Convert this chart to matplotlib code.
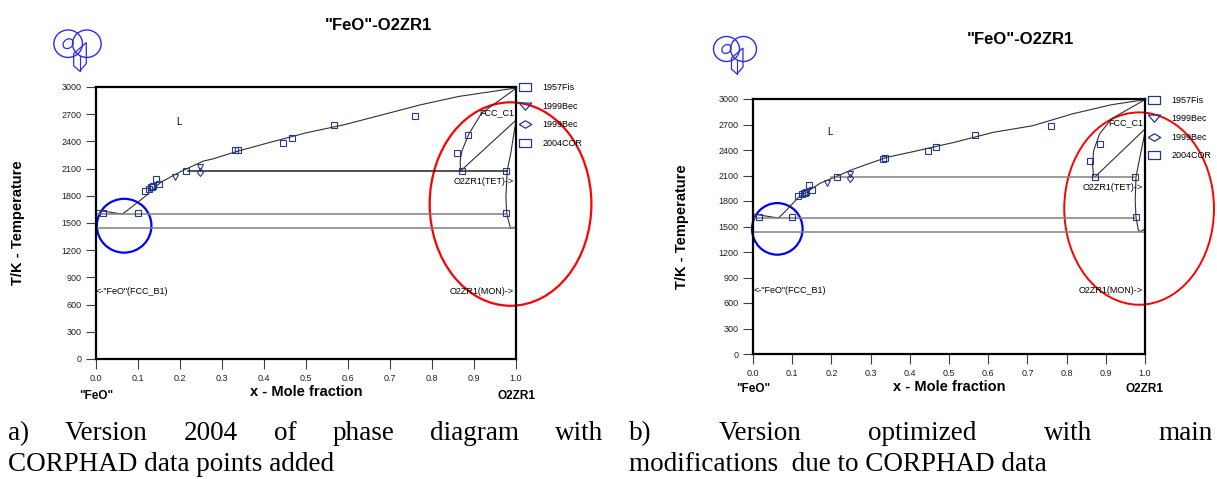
import numpy as np
import matplotlib
matplotlib.use('Agg')
import matplotlib.pyplot as plt
from matplotlib.patches import Ellipse, Polygon
from matplotlib.lines import Line2D

plt.rcParams['font.family'] = ['Liberation Sans', 'DejaVu Sans']

# calculated curves, version 2004 (panel a)
liq_a_x = [0.0, 0.062, 0.075, 0.118, 0.155, 0.2, 0.255, 0.278, 0.337, 0.41, 0.5, 0.592, 0.683, 0.774, 0.865, 1.0]
liq_a_t = [1643, 1599, 1640, 1797, 1951, 2064, 2182, 2207, 2292, 2384, 2494, 2585, 2695, 2805, 2897, 2989]
fcc_a_x = [1.0, 0.918, 0.887, 0.871, 0.867, 0.868]
fcc_a_t = [2985, 2712, 2475, 2292, 2182, 2078]
tie_a_x = [0.869, 0.999]
tie_a_t = [2078, 2630]
tet_a_x = [0.999, 0.987, 0.979, 0.976, 0.978, 0.987, 0.999]
tet_a_t = [2600, 2255, 2078, 1780, 1600, 1440, 1458]
iso_a_t = [2078, 1600, 1440]
iso_a_x0 = [0.22, 0.0, 0.0]
iso_a_x1 = [0.979, 0.978, 1.0]

# calculated curves, optimized version (panel b)
liq_b_x = [0.0, 0.065, 0.08, 0.116, 0.171, 0.211, 0.251, 0.281, 0.342, 0.412, 0.513, 0.613, 0.714, 0.814, 0.915, 1.0]
liq_b_t = [1647, 1600, 1667, 1843, 2008, 2086, 2165, 2216, 2314, 2384, 2490, 2608, 2686, 2824, 2933, 2992]
fcc_b_x = [1.0, 0.915, 0.884, 0.869, 0.866, 0.869]
fcc_b_t = [2992, 2769, 2588, 2392, 2235, 2082]
tie_b_x = [0.872, 1.0]
tie_b_t = [2082, 2647]
tet_b_x = [1.0, 0.987, 0.977, 0.975, 0.977, 0.983, 0.987, 1.0]
tet_b_t = [2610, 2314, 2082, 1804, 1608, 1459, 1439, 1471]
iso_b_t = [2082, 1600, 1440]
iso_b_x0 = [0.2, 0.0, 0.0]
iso_b_x1 = [0.975, 0.977, 1.0]

# experimental points
fis_x = [0.116, 0.126, 0.13, 0.133, 0.135, 0.142, 0.151, 0.214, 0.332, 0.337, 0.446, 0.467, 0.566, 0.759]
fis_t = [1858, 1880, 1893, 1900, 1906, 1987, 1927, 2079, 2300, 2302, 2384, 2435, 2579, 2677]
bec1_x = [0.188, 0.247]
bec1_t = [2006, 2118]
bec2_x = [0.247]
bec2_t = [2068]
cor_x = [0.016, 0.1, 0.859, 0.885, 0.872, 0.975, 0.977]
cor_t = [1608, 1608, 2270, 2475, 2079, 2079, 1608]

legend_labels = ['1957Fis', '1999Bec', '1999Bec', '2004COR']

caption_a1 = 'a) Version 2004 of phase diagram with'
caption_a2 = 'CORPHAD data points added'
caption_b1 = 'b) Version optimized with main'
caption_b2 = 'modifications  due to CORPHAD data'

NAVY = '#23398c'
RECT = [(-1, -0.6), (1, -0.6), (1, 0.6), (-1, 0.6), (-1, -0.6)]
TRI = [(-1, 0.55), (1, 0.55), (0, -0.6), (-1, 0.55)]
DIA = [(-1, 0), (0, 0.6), (1, 0), (0, -0.6), (-1, 0)]
W, H = 1217, 479


def draw_logo(fig, rect):
    lax = fig.add_axes(rect)
    lax.set_xlim(0, 10)
    lax.set_ylim(0, 10)
    lax.axis('off')
    c = '#2b2bf0'
    lax.add_patch(Ellipse((3.3, 6.6), 5.2, 5.0, fill=False, ec=c, lw=1.0))
    lax.add_patch(Ellipse((6.7, 6.6), 5.2, 5.0, fill=False, ec=c, lw=1.0))
    lax.add_patch(Ellipse((3.3, 6.6), 2.0, 1.6, angle=40, fill=False, ec=c, lw=0.9))
    lax.add_patch(Polygon([[4.3, 4.8], [6.6, 6.8], [6.6, 3.0], [5.4, 1.6], [4.3, 2.6]],
                          closed=True, fill=False, ec=c, lw=0.9))
    lax.plot([5.4, 5.4], [1.6, 4.4], color=c, lw=0.8)


def draw_panel(ax, curves, isos, iso_colors, ypad):
    for cx, ct in curves:
        ax.plot(cx, ct, color='#303030', lw=0.8)
    iso_t, iso_x0, iso_x1 = isos
    for t, a, b, col in zip(iso_t, iso_x0, iso_x1, iso_colors):
        ax.plot([a, b], [t, t], color=col, lw=1.1)

    ax.plot(fis_x, fis_t, 's', ms=4, mfc='none', mec=NAVY, mew=0.8)
    ax.plot(bec1_x, bec1_t, 'v', ms=4.5, mfc='none', mec=NAVY, mew=0.8)
    ax.plot(bec2_x, bec2_t, 'd', ms=4.5, mfc='none', mec=NAVY, mew=0.8)
    ax.plot(cor_x, cor_t, 's', ms=4, mfc='none', mec=NAVY, mew=0.8)

    ax.set_xlim(0, 1)
    ax.set_ylim(0, 3000)
    ax.set_xticks(np.arange(0, 1.01, 0.1))
    ax.set_xticklabels(['%.1f' % v for v in np.arange(0, 1.01, 0.1)])
    ax.set_yticks(range(0, 3001, 300))
    ax.tick_params(labelsize=6.5, length=7, width=0.8, colors='#404040', labelcolor='#202020')
    for s in ax.spines.values():
        s.set_linewidth(1.6)
    ax.set_xlabel('x - Mole fraction', fontsize=10.5, fontweight='bold', labelpad=2)
    ax.set_ylabel('T/K - Temperature', fontsize=10.5, fontweight='bold', labelpad=ypad)
    ax.text(0.0, -0.115, '"FeO"', transform=ax.transAxes, ha='center', va='top', fontsize=8.5, fontweight='bold')
    ax.text(1.0, -0.115, 'O2ZR1', transform=ax.transAxes, ha='center', va='top', fontsize=8.5, fontweight='bold')

    ax.text(0.19, 2580, 'L', fontsize=7)
    ax.text(0.995, 2720, 'FCC_C1', fontsize=6.5, ha='right', va='center')
    ax.text(0.995, 1960, 'O2ZR1(TET)->', fontsize=6.5, ha='right', va='center')
    ax.text(0.995, 750, 'O2ZR1(MON)->', fontsize=6.5, ha='right', va='center')
    ax.text(0.0, 750, '<-"FeO"(FCC_B1)', fontsize=6.5, ha='left', va='center')

    handles = [Line2D([], [], ls='none', marker=m, ms=9, mfc='none', mec=NAVY, mew=0.9)
               for m in (RECT, TRI, DIA, RECT)]
    ax.legend(handles, legend_labels, loc='upper left', bbox_to_anchor=(0.998, 1.03), frameon=False,
              fontsize=6.5, handlelength=1.2, handletextpad=1.3, labelspacing=1.05, borderpad=0)


def justified(fig, text, x0, x1, y, **kw):
    # place words so the line fills x0..x1 (pixels), like justified text
    words = text.split()
    objs = [fig.text(x0 / W, 1 - y / H, w, **kw) for w in words]
    r = fig.canvas.get_renderer()
    widths = [o.get_window_extent(renderer=r).width for o in objs]
    gap = (x1 - x0 - sum(widths)) / (len(words) - 1)
    x = x0
    for o, w in zip(objs, widths):
        o.set_x(x / W)
        x += w + gap


fig = plt.figure(figsize=(12.17, 4.79), dpi=100)

ax_a = fig.add_axes([96 / W, 1 - 359 / H, 420 / W, 272 / H])
draw_panel(ax_a, [(liq_a_x, liq_a_t), (fcc_a_x, fcc_a_t), (tie_a_x, tie_a_t), (tet_a_x, tet_a_t)],
           (iso_a_t, iso_a_x0, iso_a_x1), ['#202020', '#808080', '#808080'], 26)
ax_a.add_patch(Ellipse((0.987, 1709), 0.385, 2244, fill=False, ec='red', lw=1.6, clip_on=False))
ax_a.add_patch(Ellipse((0.067, 1470), 0.13, 594, fill=False, ec='blue', lw=1.6, clip_on=False))

ax_b = fig.add_axes([753 / W, 1 - 354 / H, 392 / W, 255 / H])
draw_panel(ax_b, [(liq_b_x, liq_b_t), (fcc_b_x, fcc_b_t), (tie_b_x, tie_b_t), (tet_b_x, tet_b_t)],
           (iso_b_t, iso_b_x0, iso_b_x1), ['#808080', '#808080', '#808080'], 21)
ax_b.add_patch(Ellipse((0.985, 1711), 0.382, 2263, fill=False, ec='red', lw=1.4, clip_on=False))
ax_b.add_patch(Ellipse((0.062, 1472), 0.129, 607, fill=False, ec='blue', lw=1.6, clip_on=False))

fig.text(378 / W, 1 - 25 / H, '"FeO"-O2ZR1', ha='center', va='center', fontsize=12, fontweight='bold')
fig.text(1020 / W, 1 - 40 / H, '"FeO"-O2ZR1', ha='center', va='center', fontsize=12, fontweight='bold')

draw_logo(fig, [50 / W, 1 - 80 / H, 55 / W, 55 / H])
draw_logo(fig, [710 / W, 1 - 82 / H, 50 / W, 50 / H])

cap_font = dict(family=['Liberation Serif', 'DejaVu Serif'], fontsize=19.5, va='baseline', ha='left')
justified(fig, caption_a1, 8, 603, 440, **cap_font)
justified(fig, caption_b1, 629, 1213, 440, **cap_font)
fig.text(8 / W, 1 - 471 / H, caption_a2, **cap_font)
fig.text(629 / W, 1 - 471 / H, caption_b2, **cap_font)

fig.savefig('out.png', dpi=100)
